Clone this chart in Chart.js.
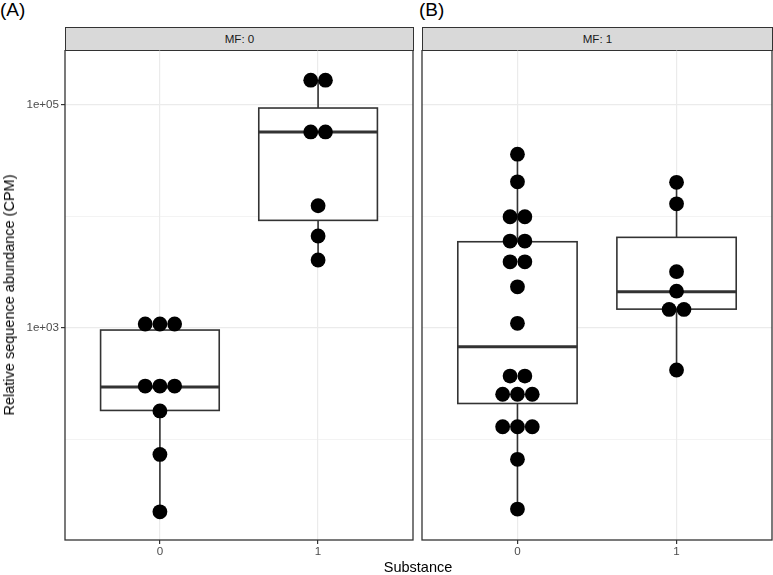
<!DOCTYPE html>
<html>
<head>
<meta charset="utf-8">
<script src="https://cdn.jsdelivr.net/npm/chart.js@4"></script>
<style>
  body { margin: 0; background: #fff; font-family: "Liberation Sans", Arial, sans-serif; }
  #wrap { position: relative; width: 773px; height: 575px; overflow: hidden; }
  canvas { position: absolute; }
  .tag { position: absolute; top: 0; font-size: 19px; color: #000; line-height: 20px; }
  .strip { position: absolute; top: 27px; height: 24px; box-sizing: border-box; border: 1.2px solid #333;
           background: #d9d9d9; color: #1a1a1a; font-size: 11.6px; text-align: center; line-height: 21px; }
  #xtitle { position: absolute; top: 559px; left: 0; width: 836px; text-align: center; font-size: 14.5px; color: #000; }
  #ytitle { position: absolute; left: 9px; top: 295px; transform: translate(-50%, -50%) rotate(-90deg);
            white-space: nowrap; font-size: 14.5px; color: #000; }
</style>
</head>
<body>
<div id="wrap">
  <div class="tag" style="left:0">(A)</div>
  <div class="tag" style="left:419px">(B)</div>
  <div class="strip" id="stripA" style="left:65px;width:349px"></div>
  <div class="strip" id="stripB" style="left:422px;width:351px"></div>
  <canvas id="panelA" width="418" height="510" style="left:0;top:50px"></canvas>
  <canvas id="panelB" width="355" height="510" style="left:418px;top:50px"></canvas>
  <div id="xtitle">Substance</div>
  <div id="ytitle">Relative sequence abundance (CPM)</div>
</div>
<script>
// categories and facets
const substance = ["0", "1"];
const mfPanels = ["MF: 0", "MF: 1"];

// y axis
const yMajor = [1000, 100000];
const yMajorLabels = ["1e+03", "1e+05"];
const yMinor = [100, 10000];
const yMin = 12.58;
const yMax = 307700;

const mf0sub0 = [1082, 1082, 1082, 301, 301, 301, 180, 73.5, 22.5];
const mf0sub1 = [165000, 165000, 56800, 56800, 12400, 6640, 4050];
// MF 1
const mf1sub0 = [35900, 20300, 9880, 9880, 5980, 5980, 3900, 3900, 2330, 1097,
                 370, 370, 254, 254, 254, 130, 130, 130, 66.4, 23.8];
const mf1sub1 = [20100, 12900, 3180, 2130, 1460, 1460, 419];

// box stats: [lower whisker, q1, median, q3, upper whisker]
const boxMf0sub0 = [22.5, 182, 295, 955, 1082];
const boxMf0sub1 = [4050, 9170, 56800, 93000, 165000];
const boxMf1sub0 = [23.8, 210, 678, 5900, 35900];
const boxMf1sub1 = [419, 1470, 2100, 6460, 20100];

document.getElementById("stripA").textContent = mfPanels[0];
document.getElementById("stripB").textContent = mfPanels[1];

const dotStep = 0.093;
const boxHalf = 0.375;

// stack equal values side by side, centred on the category
function dotPoints(values, cat) {
  const counts = {};
  values.forEach(v => { counts[v] = (counts[v] || 0) + 1; });
  const seen = {};
  return values.map(v => {
    const j = seen[v] || 0;
    seen[v] = j + 1;
    return { x: cat + (j - (counts[v] - 1) / 2) * dotStep, y: v };
  });
}

function boxPlugin(stats) {
  return {
    id: "boxes",
    beforeDatasetsDraw(chart) {
      const ctx = chart.ctx;
      const xs = chart.scales.x;
      const ys = chart.scales.y;
      ctx.save();
      ctx.strokeStyle = "#333";
      stats.forEach((s, i) => {
        const xc = xs.getPixelForValue(i);
        const x0 = xs.getPixelForValue(i - boxHalf);
        const x1 = xs.getPixelForValue(i + boxHalf);
        const p = s.map(v => ys.getPixelForValue(v));
        // whiskers
        ctx.lineWidth = 1.6;
        ctx.beginPath();
        ctx.moveTo(xc, p[0]); ctx.lineTo(xc, p[1]);
        ctx.moveTo(xc, p[3]); ctx.lineTo(xc, p[4]);
        ctx.stroke();
        // box
        ctx.fillStyle = "#fff";
        ctx.fillRect(x0, p[3], x1 - x0, p[1] - p[3]);
        ctx.strokeRect(x0, p[3], x1 - x0, p[1] - p[3]);
        // median
        ctx.lineWidth = 3;
        ctx.beginPath();
        ctx.moveTo(x0, p[2]); ctx.lineTo(x1, p[2]);
        ctx.stroke();
      });
      ctx.restore();
    },
    afterDraw(chart) {
      const a = chart.chartArea;
      const ctx = chart.ctx;
      ctx.save();
      ctx.strokeStyle = "#333";
      ctx.lineWidth = 1.3;
      ctx.strokeRect(a.left, a.top, a.right - a.left, a.bottom - a.top);
      ctx.restore();
    }
  };
}

function makePanel(id, groups, stats, showY, pad) {
  const isMajor = v => yMajor.includes(v);
  return new Chart(document.getElementById(id), {
    type: "scatter",
    data: {
      datasets: groups.map((g, i) => ({
        data: dotPoints(g, i),
        backgroundColor: "#000",
        borderWidth: 0,
        pointRadius: 7.4,
        pointHoverRadius: 7.4,
        clip: false
      }))
    },
    options: {
      responsive: false,
      animation: false,
      events: [],
      layout: { autoPadding: false, padding: pad },
      plugins: { legend: { display: false }, tooltip: { enabled: false } },
      scales: {
        x: {
          type: "linear",
          min: -0.6,
          max: 1.6,
          afterBuildTicks: s => { s.ticks = substance.map((c, i) => ({ value: i })); },
          afterFit: s => { s.height = 20; s.paddingLeft = 0; s.paddingRight = 0; },
          ticks: {
            callback: (v, i) => substance[i],
            color: "#4d4d4d",
            font: { family: "Liberation Sans", size: 11.6 },
            padding: 1
          },
          grid: { color: "#ebebeb", lineWidth: 1.2, tickColor: "#333", tickLength: 4, tickWidth: 1.2 },
          border: { display: false }
        },
        y: {
          type: "logarithmic",
          min: yMin,
          max: yMax,
          afterBuildTicks: s => {
            s.ticks = yMinor.concat(yMajor).sort((a, b) => a - b).map(v => ({ value: v }));
          },
          afterFit: s => { s.width = showY ? 65 : 0; s.paddingTop = 0; s.paddingBottom = 0; },
          ticks: {
            display: showY,
            callback: v => isMajor(v) ? yMajorLabels[yMajor.indexOf(v)] : "",
            color: "#4d4d4d",
            font: { family: "Liberation Sans", size: 11.6 },
            padding: 2
          },
          grid: {
            color: "#ebebeb",
            lineWidth: c => isMajor(c.tick.value) ? 1.2 : 0.6,
            drawTicks: showY,
            tickLength: 4,
            tickWidth: 1.2,
            tickColor: c => isMajor(c.tick.value) ? "#333" : "rgba(0,0,0,0)"
          },
          border: { display: false }
        }
      }
    },
    plugins: [boxPlugin(stats)]
  });
}

makePanel("panelA", [mf0sub0, mf0sub1], [boxMf0sub0, boxMf0sub1], true,
  { left: 0, right: 5, top: 0, bottom: 0 });
makePanel("panelB", [mf1sub0, mf1sub1], [boxMf1sub0, boxMf1sub1], false,
  { left: 4, right: 1, top: 0, bottom: 0 });
</script>
</body>
</html>
